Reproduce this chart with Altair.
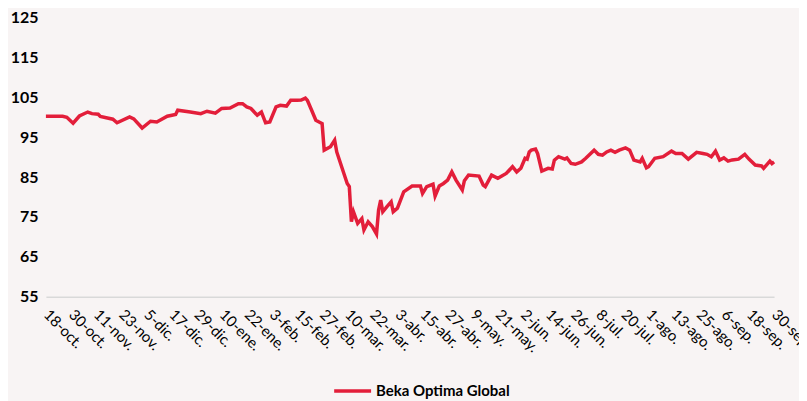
import altair as alt
import pandas as pd

# days since 18-oct-2019
days = [0, 8, 10, 13, 16, 20, 22, 25, 26, 32, 34, 40, 42, 46, 50, 53, 58, 62, 63, 69,
        74, 77, 81, 84, 88, 92, 94, 96, 98, 101, 103, 105, 107, 110, 112, 115, 117, 120,
        122, 124, 125, 127, 129, 131, 132, 133, 136, 138, 139, 144, 145, 146, 147, 149,
        151, 152, 154, 156, 158, 159, 160, 161, 163, 165, 166, 168, 171, 175, 179, 180,
        182, 185, 186, 188, 190, 192, 194, 196, 199, 200, 202, 207, 209, 210, 213, 216,
        220, 223, 225, 227, 229, 230, 231, 232, 234, 235, 237, 240, 242, 243, 245, 248,
        249, 251, 253, 256, 258, 262, 264, 266, 268, 270, 272, 274, 277, 279, 281, 284,
        285, 287, 288, 291, 295, 299, 301, 304, 307, 311, 314, 316, 318, 320, 322, 324,
        326, 328, 331, 334, 336, 339, 342, 343, 346, 347, 348]
values = [100.25, 100.25, 100.0, 98.5, 100.3, 101.3, 100.9, 100.75, 100.2, 99.5, 98.6,
          100.1, 99.6, 97.3, 99.0, 98.8, 100.25, 100.7, 101.75, 101.3, 100.9, 101.5, 101.0,
          102.2, 102.3, 103.4, 103.4, 102.6, 102.2, 100.5, 101.3, 98.6, 98.8, 102.6, 103.0,
          102.8, 104.25, 104.25, 104.3, 104.8, 104.2, 101.75, 99.25, 98.7, 98.4, 91.75,
          92.6, 94.25, 91.3, 83.4, 82.6, 73.8, 76.3, 73.4, 74.6, 71.75, 73.8, 72.6, 70.75,
          76.75, 79.25, 76.3, 77.6, 78.8, 76.3, 77.2, 81.3, 82.75, 82.75, 80.9, 82.6, 83.2,
          80.25, 82.75, 83.4, 84.25, 86.3, 84.25, 81.75, 84.1, 85.5, 85.25, 83.0, 82.6,
          85.5, 84.7, 85.9, 87.6, 86.3, 87.2, 89.7, 89.5, 91.3, 91.75, 92.0, 90.9, 86.5,
          87.2, 87.0, 89.25, 90.1, 89.5, 89.8, 88.4, 88.2, 88.8, 89.7, 91.75, 90.7, 90.5,
          91.3, 91.75, 91.2, 91.75, 92.3, 91.75, 89.25, 88.8, 89.7, 87.3, 87.6, 89.7, 90.1,
          91.5, 90.9, 90.9, 89.5, 91.2, 90.9, 90.7, 90.1, 91.5, 89.25, 89.8, 89.0, 89.3,
          89.5, 90.7, 89.5, 88.0, 87.8, 87.2, 89.0, 88.4, 88.8]
series_name = "Beka Optima Global"

tick_days = list(range(0, 349, 12))
tick_labels = ["18-oct.", "30-oct.", "11-nov.", "23-nov.", "5-dic.", "17-dic.", "29-dic.",
               "10-ene.", "22-ene.", "3-feb.", "15-feb.", "27-feb.", "10-mar.", "22-mar.",
               "3-abr.", "15-abr.", "27-abr.", "9-may.", "21-may.", "2-jun.", "14-jun.",
               "26-jun.", "8-jul.", "20-jul.", "1-ago.", "13-ago.", "25-ago.", "6-sep.",
               "18-sep.", "30-sep."]
y_ticks = [55, 65, 75, 85, 95, 105, 115, 125]

df = pd.DataFrame({"day": days, "value": values, "serie": series_name})

label_arr = "[" + ",".join("'%s'" % s for s in tick_labels) + "]"

FONT = "Lato"
RED = "#E31E3A"

chart = alt.Chart(df).mark_line(strokeWidth=3.5, color=RED).encode(
    x=alt.X("day:Q",
            scale=alt.Scale(domain=[0, 348], nice=False, zero=False),
            axis=alt.Axis(values=tick_days, title=None, grid=False, ticks=False,
                          domain=True, domainColor="#D9D9D9", domainWidth=1.5,
                          labelAngle=45, labelAlign="left", labelBaseline="middle",
                          labelPadding=15, labelFont=FONT, labelFontSize=15,
                          labelColor="#000000", labelOverlap=False,
                          labelExpr=label_arr + "[round(datum.value/12)]")),
    y=alt.Y("value:Q",
            scale=alt.Scale(domain=[55, 125], nice=False, zero=False),
            axis=alt.Axis(values=y_ticks, title=None, grid=False, ticks=False,
                          domain=False, labelPadding=8, labelFont=FONT,
                          labelFontSize=16, labelFontWeight="bold",
                          labelColor="#000000")),
    color=alt.Color("serie:N",
                    scale=alt.Scale(range=[RED]),
                    legend=alt.Legend(title=None, orient="none", legendX=287,
                                      legendY=354, symbolType="stroke",
                                      symbolSize=1369, symbolStrokeWidth=3.5,
                                      labelFont=FONT, labelFontSize=15,
                                      labelFontWeight="bold", labelColor="#000000",
                                      labelOffset=3, padding=0)),
).properties(
    width=730,
    height=280,
    background="#F8F4F4",
    padding={"left": 38, "top": 9, "right": 25, "bottom": 104},
    autosize=alt.AutoSizeParams(type="none"),
).configure_view(stroke=None)

chart.save("out.html", embed_options={"renderer": "svg", "actions": False})
